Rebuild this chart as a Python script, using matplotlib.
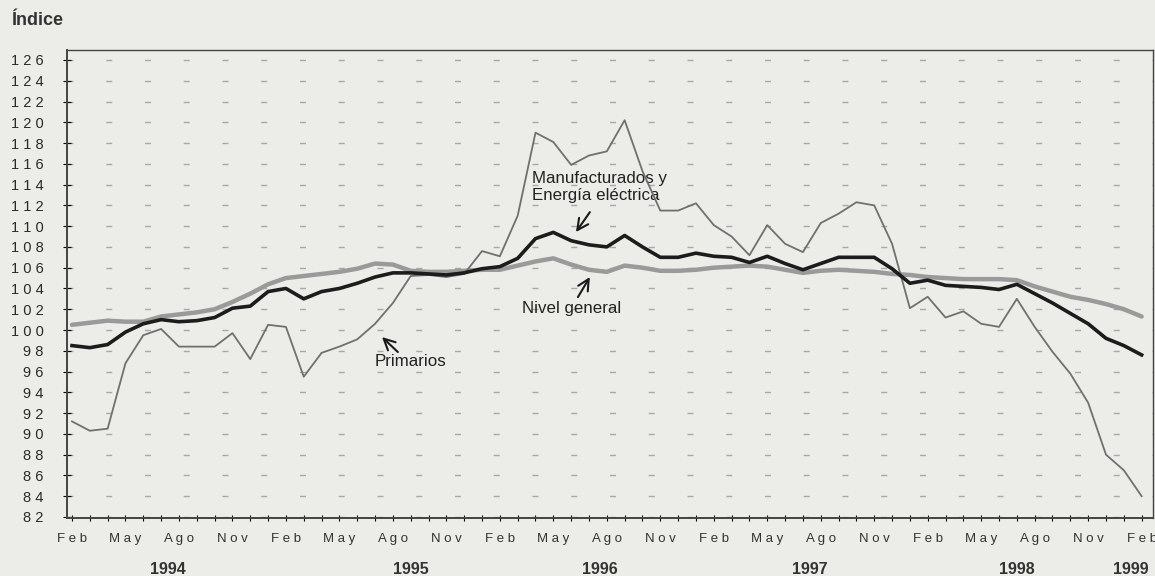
import numpy as np
import matplotlib
matplotlib.use("Agg")
import matplotlib.pyplot as plt

# monthly index, Feb 1994 .. Feb 1999 (61 months)
primarios = [91.2, 90.3, 90.5, 96.8, 99.5, 100.1, 98.4, 98.4, 98.4, 99.7,
             97.2, 100.5, 100.3, 95.5, 97.8, 98.4, 99.1, 100.6, 102.6, 105.2,
             105.3, 105.1, 105.4, 107.6, 107.1, 111.0, 119.0, 118.1, 115.9, 116.8,
             117.2, 120.2, 115.3, 111.5, 111.5, 112.2, 110.1, 109.0, 107.2, 110.1,
             108.3, 107.5, 110.3, 111.2, 112.3, 112.0, 108.3, 102.1, 103.2, 101.2,
             101.8, 100.6, 100.3, 103.0, 100.3, 97.9, 95.8, 93.0, 88.0, 86.5,
             84.0]
manufacturados = [98.5, 98.3, 98.6, 99.8, 100.6, 101.0, 100.8, 100.9, 101.2, 102.1,
                  102.3, 103.7, 104.0, 103.0, 103.7, 104.0, 104.5, 105.1, 105.5, 105.5,
                  105.4, 105.3, 105.5, 105.9, 106.1, 106.9, 108.8, 109.4, 108.6, 108.2,
                  108.0, 109.1, 108.0, 107.0, 107.0, 107.4, 107.1, 107.0, 106.5, 107.1,
                  106.4, 105.8, 106.4, 107.0, 107.0, 107.0, 105.9, 104.5, 104.8, 104.3,
                  104.2, 104.1, 103.9, 104.4, 103.5, 102.6, 101.6, 100.6, 99.2, 98.5,
                  97.6]
nivel_general = [100.5, 100.7, 100.9, 100.8, 100.8, 101.3, 101.5, 101.7, 102.0, 102.7,
                 103.5, 104.4, 105.0, 105.2, 105.4, 105.6, 105.9, 106.4, 106.3, 105.7,
                 105.6, 105.6, 105.7, 105.8, 105.8, 106.2, 106.6, 106.9, 106.3, 105.8,
                 105.6, 106.2, 106.0, 105.7, 105.7, 105.8, 106.0, 106.1, 106.2, 106.1,
                 105.8, 105.5, 105.7, 105.8, 105.7, 105.6, 105.4, 105.3, 105.1, 105.0,
                 104.9, 104.9, 104.9, 104.8, 104.2, 103.7, 103.2, 102.9, 102.5, 102.0,
                 101.3]

month_labels = ["Feb", "May", "Ago", "Nov"]
years = ["1994", "1995", "1996", "1997", "1998", "1999"]
year_pos = [5.4, 19.0, 29.6, 41.4, 53.0, 59.4]
yticks = list(range(82, 127, 2))

def spaced(s):
    return " ".join(str(s))

months = np.arange(len(primarios))

plt.rcParams['font.family'] = ['Liberation Sans', 'DejaVu Sans']

fig = plt.figure(figsize=(11.55, 5.76), dpi=100)
fig.patch.set_facecolor('#ecece9')
ax = fig.add_axes([0.058, 0.1007, 0.940, 0.8125])
ax.set_facecolor('#ecece9')

ax.plot(months, nivel_general, color='#9a9a9a', lw=3.2, solid_capstyle='round', zorder=3)
ax.plot(months, primarios, color='#707070', lw=1.3, zorder=4)
ax.plot(months, manufacturados, color='#1c1c1c', lw=2.6, zorder=5)

ax.set_xlim(-0.28, 60.62)
ax.set_ylim(81.9, 126.96)

# y axis: letter-spaced numbers like the original print
ax.set_yticks(yticks)
ax.set_yticklabels([spaced(v) for v in yticks], fontsize=10.5, color='#2a2a2a')
ax.tick_params(axis='y', direction='inout', length=6, width=0.8, pad=14)

# x axis: quarterly labels, monthly ticks
major = np.arange(0, 61, 3)
ax.set_xticks(major)
ax.set_xticklabels([spaced(month_labels[(i // 3) % 4]) for i in major],
                   fontsize=9.5, color='#333333')
ax.set_xticks(months, minor=True)
ax.tick_params(axis='x', which='both', direction='inout', length=5, width=0.8, pad=8)

for x, yr in zip(year_pos, years):
    ax.text(x, -0.111, yr, transform=ax.get_xaxis_transform(), ha='center', va='center',
            fontsize=11.5, fontweight='bold', color='#333333')

# faint dashed horizontal grid
ax.grid(axis='y', color='#a8a8a8', lw=1.0, linestyle=(0, (4.3, 23.6)))
ax.set_axisbelow(True)

for sp in ax.spines.values():
    sp.set_color('#444444')
    sp.set_linewidth(1.0)
ax.spines['left'].set_linewidth(1.4)
ax.spines['bottom'].set_linewidth(1.4)

# labels with arrows
arrow = dict(arrowstyle='->', color='#1a1a1a', lw=1.5, mutation_scale=20,
             shrinkA=0, shrinkB=0)
ax.text(25.8, 113.8, "Manufacturados y\nEnergía eléctrica", fontsize=12.2,
        color='#222222', ha='left', va='center', linespacing=1.15)
ax.annotate("", xy=(28.27, 109.43), xytext=(29.05, 111.35), arrowprops=arrow)
ax.text(25.24, 102.1, "Nivel general", fontsize=12.2, color='#222222', ha='left', va='center')
ax.annotate("", xy=(29.05, 105.1), xytext=(28.38, 103.17), arrowprops=arrow)
ax.text(16.99, 97.0, "Primarios", fontsize=12.2, color='#222222', ha='left', va='center')
ax.annotate("", xy=(17.39, 99.32), xytext=(18.28, 97.88), arrowprops=arrow)

fig.text(0.01, 0.965, "Índice", fontsize=13, fontweight='bold', color='#333333',
         ha='left', va='center')

fig.savefig("out.png", dpi=100, facecolor=fig.get_facecolor())
